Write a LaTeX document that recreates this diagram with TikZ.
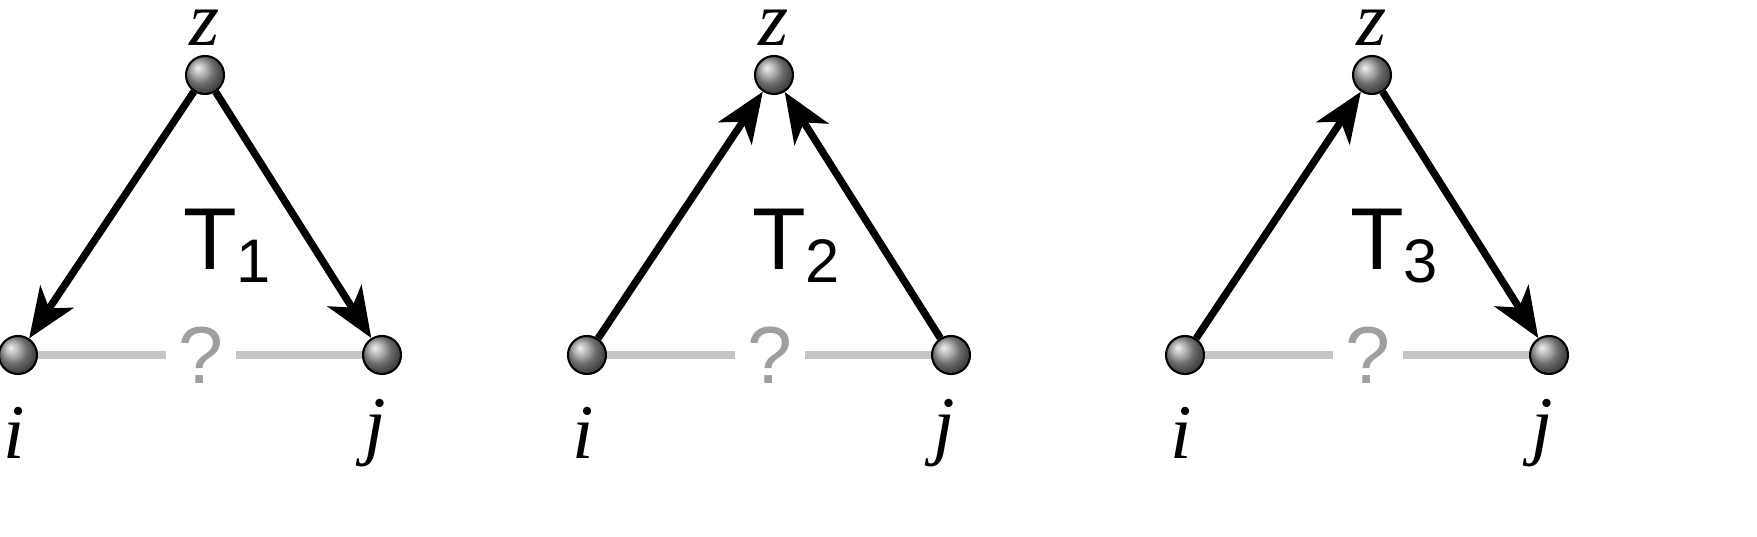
\documentclass[tikz,border=0pt]{standalone}
\usepackage{fontspec}
\setmainfont{Liberation Serif}
\setsansfont{Liberation Sans}
\usetikzlibrary{arrows.meta}
\tikzset{ball/.style={circle, inner sep=0pt, minimum size=0.38cm, draw=black, line width=0.6pt, ball color=gray!80},
  tri/.style={line width=2.1pt},
  fwd/.style={-{Stealth[length=0.5cm, width=0.4cm, inset=0.14cm]}},
  bwd/.style={{Stealth[length=0.5cm, width=0.4cm, inset=0.14cm]}-},
  lbl/.style={font=\fontsize{22}{22}\selectfont\itshape},
  gap/.style={font=\sffamily\fontsize{23}{23}\selectfont, text=gray!75, inner xsep=0.12cm}}
\begin{document}
\begin{tikzpicture}
\useasboundingbox (0,0) rectangle (17.57,5.36);
\foreach\x/\n/\l/\r in {0.18/1/bwd/fwd, 5.87/2/fwd/bwd, 11.85/3/fwd/fwd}
 {\node[ball] (i\n) at (\x,1.81) {};
  \node[ball] (j\n) at ({\x+3.64},1.81) {};
  \node[ball] (z\n) at ({\x+1.87},4.61) {};
  \node[lbl] (zl\n) at ({\x+1.87},5.08) {z};
  \node[lbl] (il\n) at ({\x-0.04},1.03) {i};
  \node[lbl] (jl\n) at ({\x+3.57},1.03) {j};
  \node[font=\sffamily\fontsize{25}{25}\selectfont] (t\n) at ({\x+2.1},2.9) {T\textsubscript{\n}};
  \node[gap] (q\n) at ({\x+1.83},1.81) {?};
  \draw[gray!45, line width=2pt] (i\n) -- (q\n) (q\n) -- (j\n);
  \draw[tri, \l] (i\n) -- (z\n);
  \draw[tri, \r] (z\n) -- (j\n);}
\end{tikzpicture}
\end{document}
